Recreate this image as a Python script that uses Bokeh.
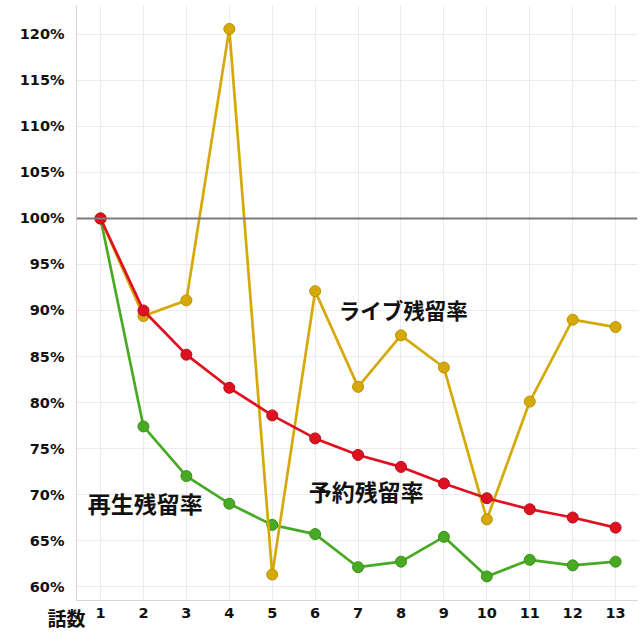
from bokeh.plotting import figure
from bokeh.models import Range1d, FixedTicker, PrintfTickFormatter, Span, Label, Title, ColumnDataSource
from bokeh.embed import file_html
from bokeh.resources import INLINE

episodes = list(range(1, 14))
live_rate = [100, 89.4, 91.1, 120.6, 61.3, 92.1, 81.7, 87.3, 83.8, 67.3, 80.1, 89.0, 88.2]
reserve_rate = [100, 90.0, 85.2, 81.6, 78.6, 76.1, 74.3, 73.0, 71.2, 69.6, 68.4, 67.5, 66.4]
play_rate = [100, 77.4, 72.0, 69.0, 66.7, 65.7, 62.1, 62.7, 65.4, 61.1, 62.9, 62.3, 62.7]
y_ticks = [60, 65, 70, 75, 80, 85, 90, 95, 100, 105, 110, 115, 120]

series_names = ["再生残留率", "ライブ残留率", "予約残留率"]
colors = {"再生残留率": "#46aa22", "ライブ残留率": "#d4a908", "予約残留率": "#df1020"}
outline = {"再生残留率": "#3a8f1a", "ライブ残留率": "#b89200", "予約残留率": "#b80d18"}
values = {"再生残留率": play_rate, "ライブ残留率": live_rate, "予約残留率": reserve_rate}

p = figure(width=640, height=640, output_backend="svg", toolbar_location=None,
           x_range=Range1d(0.44, 13.51), y_range=Range1d(58.48, 123.15),
           min_border_left=76, min_border_right=3, min_border_top=5, min_border_bottom=40)
p.outline_line_color = None
p.background_fill_color = "white"

p.xaxis.ticker = FixedTicker(ticks=episodes)
p.yaxis.ticker = FixedTicker(ticks=y_ticks)
p.yaxis.formatter = PrintfTickFormatter(format="%d%%")
for ax in (p.xaxis[0], p.yaxis[0]):
    ax.axis_line_color = "#d6d6d6"
    ax.axis_line_width = 1
    ax.major_tick_line_color = None
    ax.minor_tick_line_color = None
    ax.major_label_text_font = "DejaVu Sans"
    ax.major_label_text_font_style = "bold"
    ax.major_label_text_font_size = "14.5px"
    ax.major_label_text_color = "#111111"
p.xaxis.major_label_standoff = 1
p.yaxis.major_label_standoff = 6

p.xgrid.grid_line_color = "#ebebeb"
p.ygrid.grid_line_color = "#ebebeb"
p.xgrid.grid_line_width = 1
p.ygrid.grid_line_width = 1

p.add_layout(Span(location=100, dimension="width", line_color="#7a7a7a", line_width=2))

for name in series_names:
    src = ColumnDataSource(dict(x=episodes, y=values[name]))
    p.line("x", "y", source=src, line_color=colors[name], line_width=2.7)
    p.scatter("x", "y", source=src, size=11, fill_color=colors[name],
              line_color=outline[name], line_width=1)

label_font = "Noto Sans CJK JP"
labels = [("再生残留率", 0.70, 69.1, "23px"), ("予約残留率", 5.85, 70.4, "23px"),
          ("ライブ残留率", 6.55, 90.1, "21.5px")]
for text, lx, ly, fs in labels:
    p.add_layout(Label(x=lx, y=ly, text=text, text_font=label_font, text_font_style="bold",
                       text_font_size=fs, text_baseline="middle", text_align="left",
                       text_color="#111111"))

p.add_layout(Title(text="話数", align="left", offset=-29, vertical_align="top", standoff=-34,
                   text_font=label_font, text_font_style="bold", text_font_size="19px",
                   text_color="#111111"), "below")

open("out.html", "w").write(file_html(p, INLINE))
